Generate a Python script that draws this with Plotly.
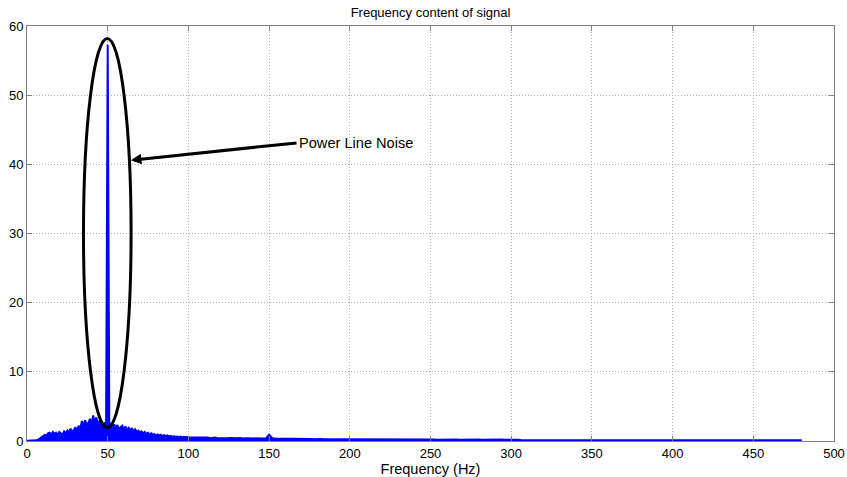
import plotly.graph_objects as go

# Frequency grid (Hz): 1 Hz steps to 100 Hz, 2 Hz steps to 480 Hz
freq_low = list(range(0, 101))
freq_high = list(range(102, 481, 2))

mag_low = [
    0.05, 0.05, 0.05, 0.05, 0.06, 0.08, 0.1, 0.2, 0.35, 0.5, 0.7,
    0.9, 0.8, 1.1, 1.2, 0.9, 1.3, 1.0, 1.2, 0.9, 1.3,
    1.1, 0.9, 1.4, 1.1, 1.5, 1.2, 1.8, 1.3, 1.6, 2.0,
    1.5, 2.2, 1.7, 2.9, 2.1, 3.0, 2.4, 2.6, 3.2, 2.5,
    3.7, 2.8, 3.4, 2.3, 3.0, 2.6, 2.2, 2.7, 2.0, 57.3,
    2.2, 2.6, 1.8, 2.4, 1.9, 2.3, 1.7, 2.0, 2.2, 1.6,
    2.1, 1.5, 1.9, 1.6, 1.8, 1.4, 1.7, 1.3, 1.5, 1.2,
    1.4, 1.1, 1.3, 1.0, 1.2, 0.9, 1.1, 0.9, 1.0, 0.8,
    0.95, 0.8, 0.9, 0.7, 0.85, 0.7, 0.8, 0.65, 0.75, 0.6,
    0.7, 0.6, 0.65, 0.55, 0.65, 0.55, 0.6, 0.5, 0.6, 0.5,
]

mag_high = [
    # 102-150
    0.5, 0.55, 0.45, 0.5, 0.45, 0.5, 0.4, 0.5, 0.45, 0.4, 0.45, 0.4, 0.45,
    0.4, 0.4, 0.45, 0.35, 0.4, 0.4, 0.35, 0.4, 0.35, 0.4, 0.35, 0.9,
    # 152-200
    0.4, 0.35, 0.35, 0.4, 0.3, 0.35, 0.3, 0.35, 0.3, 0.3, 0.35, 0.3, 0.3,
    0.25, 0.3, 0.3, 0.25, 0.3, 0.25, 0.25, 0.3, 0.25, 0.25, 0.25, 0.3,
    # 202-250
    0.2, 0.25, 0.2, 0.2, 0.25, 0.2, 0.2, 0.2, 0.25, 0.2, 0.2, 0.2, 0.2,
    0.2, 0.25, 0.2, 0.2, 0.2, 0.2, 0.2, 0.2, 0.2, 0.2, 0.2, 0.3,
    # 252-300
    0.2, 0.18, 0.2, 0.18, 0.2, 0.2, 0.18, 0.2, 0.18, 0.2, 0.18, 0.2, 0.2,
    0.18, 0.2, 0.18, 0.2, 0.18, 0.2, 0.2, 0.18, 0.2, 0.18, 0.2, 0.2,
    # 302-350
    0.15, 0.18, 0.15, 0.15, 0.18, 0.15, 0.15, 0.18, 0.15, 0.15, 0.15, 0.18, 0.15,
    0.15, 0.18, 0.15, 0.15, 0.15, 0.18, 0.15, 0.15, 0.15, 0.18, 0.15, 0.15,
    # 352-400
    0.15, 0.15, 0.13, 0.15, 0.15, 0.13, 0.15, 0.15, 0.13, 0.15, 0.15, 0.13, 0.15,
    0.15, 0.13, 0.15, 0.15, 0.13, 0.15, 0.15, 0.13, 0.15, 0.15, 0.13, 0.15,
    # 402-450
    0.13, 0.15, 0.13, 0.13, 0.15, 0.13, 0.13, 0.15, 0.13, 0.13, 0.15, 0.13, 0.13,
    0.15, 0.13, 0.13, 0.15, 0.13, 0.13, 0.15, 0.13, 0.13, 0.15, 0.13, 0.13,
    # 452-480
    0.13, 0.12, 0.13, 0.12, 0.13, 0.12, 0.13, 0.12, 0.13, 0.12, 0.13, 0.12,
    0.13, 0.12, 0.12,
]

freq = freq_low + freq_high
mag = mag_low + mag_high

x_ticks = [0, 50, 100, 150, 200, 250, 300, 350, 400, 450, 500]
y_ticks = [0, 10, 20, 30, 40, 50, 60]

# Annotation geometry (data units)
ellipse_x = [35, 64.5]
ellipse_y = [1.9, 58.2]
arrow_head = (64.4, 40.6)
arrow_tail = (167, 43.1)
note_text = "Power Line Noise"

FONT = "Liberation Sans, Arial, sans-serif"

fig = go.Figure()
fig.add_trace(go.Scatter(
    x=freq, y=mag, mode="lines",
    line=dict(color="#0000FF", width=2),
    fill="tozeroy", fillcolor="#0000FF",
    showlegend=False, hoverinfo="skip",
))

fig.add_shape(type="circle", xref="x", yref="y",
              x0=ellipse_x[0], x1=ellipse_x[1], y0=ellipse_y[0], y1=ellipse_y[1],
              line=dict(color="black", width=3))

fig.add_annotation(
    x=arrow_head[0], y=arrow_head[1], ax=arrow_tail[0], ay=arrow_tail[1],
    xref="x", yref="y", axref="x", ayref="y",
    text=note_text, showarrow=True, xanchor="left",
    arrowhead=2, arrowsize=0.7, arrowwidth=3, arrowcolor="black",
    font=dict(family=FONT, size=14.6, color="black"),
)

axis_common = dict(
    showline=True, mirror="ticks", linecolor="#808080", linewidth=1,
    ticks="inside", ticklen=5, tickcolor="#808080",
    showgrid=True, gridcolor="#b0b0b0", griddash="1px,2px", gridwidth=1,
    zeroline=False, automargin=False,
    tickfont=dict(family=FONT, size=13, color="black"),
)

fig.update_xaxes(range=[0, 500], tickvals=x_ticks,
                 title=dict(text="Frequency (Hz)", font=dict(family=FONT, size=14.5, color="black"), standoff=0),
                 **axis_common)
fig.update_yaxes(range=[0, 60], tickvals=y_ticks, **axis_common)

fig.update_layout(
    width=847, height=477,
    margin=dict(l=27, r=13, t=26, b=36),
    plot_bgcolor="white", paper_bgcolor="white",
    title=dict(text="Frequency content of signal", x=0.5, xref="paper",
               y=1 - 12 / 477, yref="container", yanchor="middle",
               font=dict(family=FONT, size=13, color="black")),
)

fig.write_html("out.html")
